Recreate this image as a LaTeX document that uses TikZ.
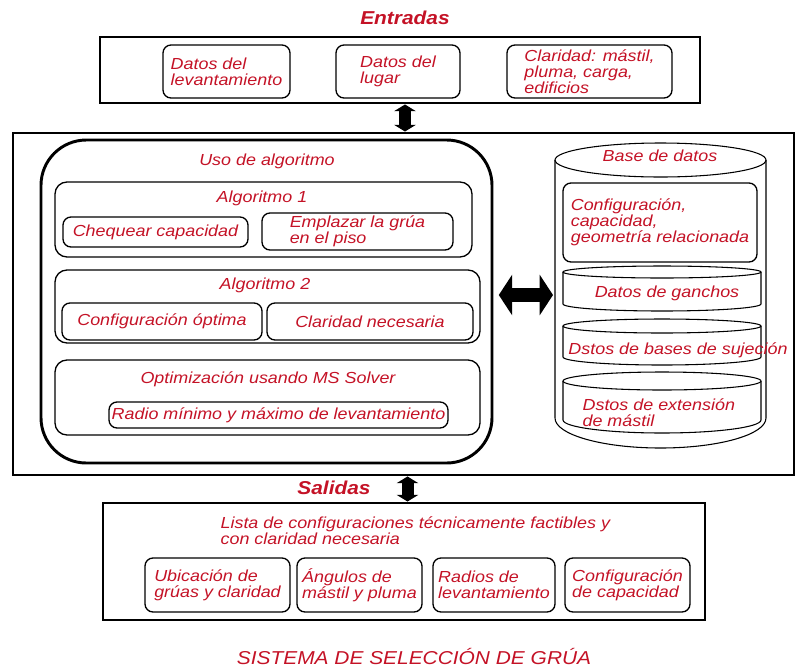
\documentclass[tikz,border=0pt]{standalone}
\usepackage{fontspec}
\setmainfont{Liberation Sans}[FakeStretch=1.12]
\usetikzlibrary{arrows.meta}
\definecolor{txtred}{RGB}{196,18,38}
\tikzset{
  lbl/.style={text=txtred,font=\itshape\fontsize{12}{12}\selectfont,inner sep=1pt},
  headlbl/.style={text=txtred,font=\bfseries\itshape\fontsize{14}{14}\selectfont},
  sz/.style 2 args={minimum width=#1*0.75pt,minimum height=#2*0.75pt},
  outerbox/.style={draw,line width=2.2pt,inner sep=0pt},
  grpbox/.style={draw,line width=1pt,rounded corners=9pt,inner sep=0pt},
  itembox/.style={draw,line width=1pt,rounded corners=6pt,lbl,align=left,inner sep=2pt},
  vblock/.style={line width=9pt,arrows={Triangle[width=16pt,length=5pt]-Triangle[width=16pt,length=5pt]}},
  hblock/.style={line width=10.5pt,arrows={Triangle[width=30pt,length=10pt]-Triangle[width=30pt,length=10pt]}},
  dbline/.style={line width=0.8pt}
}
\begin{document}
\begin{tikzpicture}[x=0.75pt,y=-0.75pt]
  \useasboundingbox (0,0) rectangle (797,669);

  \node[headlbl] (entradas) at (405,18) {Entradas};
  \node[outerbox,sz={600}{66}] (entr) at (400,70) {};
  \node[itembox,sz={127}{53}] (lev) at (226.5,71.5) {Datos del\\levantamiento};
  \node[itembox,sz={124}{53}] (lug) at (398,71.5) {Datos del\\lugar};
  \node[itembox,sz={165}{53}] (cla) at (589.5,71.5) {Claridad: mástil,\\pluma, carga,\\edificios};

  \node[outerbox,sz={781}{342}] (main) at (403.5,304) {};
  \node[draw,line width=2.2pt,rounded corners=34pt,sz={451}{323}] (alg) at (266.5,301.5) {};
  \node[lbl] (uso) at (267,161) {Uso de algoritmo};

  \node[grpbox,sz={417}{75}] (alg1) at (263.5,219.5) {};
  \node[lbl] (alg1t) at (262,198) {Algoritmo 1};
  \node[itembox,sz={185}{30}] (cheq) at (155.5,232) {Chequear capacidad};
  \node[itembox,sz={191}{37}] (empl) at (357.5,231.5) {Emplazar la grúa\\en el piso};

  \node[grpbox,sz={425}{73}] (alg2) at (267.5,306.5) {};
  \node[lbl] (alg2t) at (265,285) {Algoritmo 2};
  \node[itembox,sz={200}{37}] (conf) at (162,321.5) {Configuración óptima};
  \node[itembox,sz={206}{37}] (clar) at (370,321.5) {Claridad necesaria};

  \node[grpbox,sz={425}{75}] (opt) at (267.5,397.5) {};
  \node[lbl] (optt) at (268,379) {Optimización usando MS Solver};
  \node[itembox,sz={337}{26}] (radio) at (278.5,415) {Radio mínimo y máximo de levantamiento};

  \draw[dbline,fill=white] (555,160) -- (555,418)
    arc[start angle=180,end angle=0,x radius=105.5,y radius=30] -- (766,160);
  \draw[dbline] (660.5,160) ellipse [x radius=105.5,y radius=17];
  \node[lbl] (base) at (660,156) {Base de datos};
  \node[itembox,sz={194}{79}] (dbconf) at (660,222.5) {Configuración,\\capacidad,\\geometría relacionada};
  \foreach \yt/\rt/\yb/\rb in {272/6/304/7,326/7/357/8,381/9/420/13}{
    \draw[dbline,fill=white] (563,\yt) -- (563,\yb)
      arc[start angle=180,end angle=0,x radius=99,y radius=\rb] -- (761,\yt);
    \draw[dbline] (662,\yt) ellipse [x radius=99,y radius=\rt];
  }
  \node[lbl] (ganchos) at (667,293) {Datos de ganchos};
  \node[lbl] (sujecion) at (678,350) {Dstos de bases de sujeción};
  \node[lbl,align=left,anchor=west] (extension) at (581,413) {Dstos de extensión\\de mástil};

  \node[headlbl] (salidas) at (334,488) {Salidas};
  \node[outerbox,sz={602}{117}] (sal) at (404,561.5) {};
  \node[lbl,align=left,anchor=north west] (lista) at (219,515) {Lista de configuraciones técnicamente factibles y\\con claridad necesaria};
  \node[itembox,sz={145}{54}] (ubi) at (217.5,585) {Ubicación de\\grúas y claridad};
  \node[itembox,sz={125}{54}] (ang) at (359.5,585) {Ángulos de\\mástil y pluma};
  \node[itembox,sz={122}{54}] (rad) at (494,585) {Radios de\\levantamiento};
  \node[itembox,sz={125}{54}] (cap) at (627.5,585) {Configuración\\de capacidad};

  \node[text=txtred,font=\itshape\fontsize{14}{14}\selectfont] (titulo) at (414,656) {SISTEMA DE SELECCIÓN DE GRÚA};

  \coordinate (upx) at (405,0);
  \coordinate (dnx) at (407.5,0);
  \coordinate (dbw) at (553,295);
  \draw[vblock] (main.north -| upx) -- (entr.south -| upx);
  \draw[vblock] (main.south -| dnx) -- (sal.north -| dnx);
  \draw[hblock,shorten <=4pt] (alg.east |- dbw) -- (dbw);
\end{tikzpicture}
\end{document}
